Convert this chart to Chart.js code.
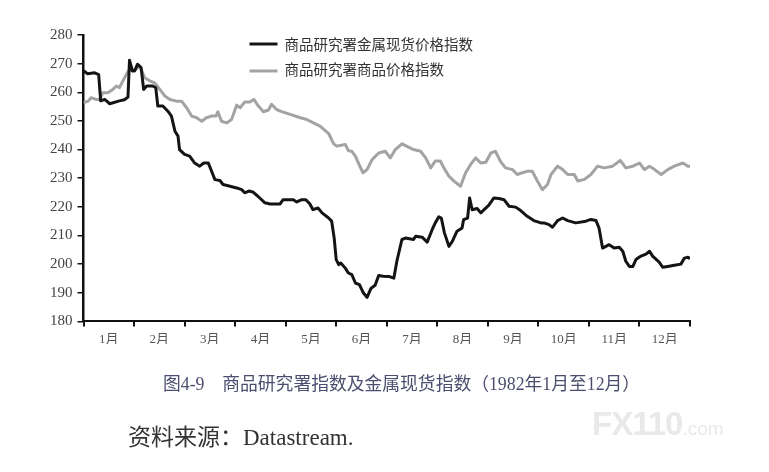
<!DOCTYPE html>
<html lang="zh">
<head>
<meta charset="utf-8">
<title>商品研究署指数及金属现货指数</title>
<script src="https://cdn.jsdelivr.net/npm/chart.js@4.4.1/dist/chart.umd.min.js"></script>
<style>
	body { margin: 0; background: #fff; }
	#wrap { position: relative; width: 769px; height: 472px; overflow: hidden; }
	#chart { position: absolute; left: 0; top: 0; }
	.caption {
		position: absolute; left: 163px; top: 369px;
		font-family: "Liberation Serif", "Noto Sans CJK SC", serif;
		font-size: 17.8px; color: #4b4e6e; white-space: nowrap;
	}
	.source {
		position: absolute; left: 128px; top: 418px;
		font-family: "Liberation Serif", "Noto Sans CJK SC", serif;
		font-size: 23px; color: #333; white-space: nowrap;
	}
	.mark {
		position: absolute; left: 592px; top: 405px;
		font-family: "Liberation Sans", Roboto, sans-serif;
		color: #e9e9e9; white-space: nowrap; font-weight: bold;
	}
	.mark b { font-size: 33px; letter-spacing: -1px; }
	.mark span { font-size: 19px; font-weight: normal; }
</style>
</head>
<body>
<div id="wrap">
	<canvas id="chart" width="769" height="472"></canvas>
	<div class="caption">图4-9　商品研究署指数及金属现货指数（1982年1月至12月）</div>
	<div class="source">资料来源：Datastream.</div>
	<div class="mark"><b>FX110</b><span>.com</span></div>
</div>
<script>
// month labels and y ticks
const monthLabels = ["1月", "2月", "3月", "4月", "5月", "6月", "7月", "8月", "9月", "10月", "11月", "12月"];
const yMin = 180;
const yMax = 280;
const yStep = 10;

// 商品研究署金属现货价格指数 (position in months from 1 Jan)
const metalMonths = [0, 0.08, 0.22, 0.30, 0.34, 0.42, 0.52, 0.71, 0.81, 0.88, 0.91, 0.97, 1.01, 1.07, 1.14, 1.19, 1.25, 1.37, 1.43, 1.47,
	1.57, 1.67, 1.74, 1.81, 1.87, 1.90, 2.00, 2.10, 2.20, 2.30, 2.38, 2.47, 2.60, 2.70, 2.76, 2.90, 3.03, 3.13, 3.19, 3.27,
	3.35, 3.45, 3.59, 3.69, 3.89, 3.95, 4.15, 4.22, 4.32, 4.40, 4.48, 4.54, 4.64, 4.72, 4.85, 4.91, 4.96, 5.00, 5.05, 5.09,
	5.18, 5.24, 5.31, 5.38, 5.46, 5.54, 5.61, 5.69, 5.77, 5.84, 5.93, 6.04, 6.14, 6.20, 6.30, 6.37, 6.53, 6.57, 6.70, 6.80,
	6.90, 6.96, 7.03, 7.08, 7.14, 7.23, 7.30, 7.39, 7.49, 7.52, 7.60, 7.64, 7.69, 7.79, 7.86, 8.02, 8.12, 8.22, 8.32, 8.42,
	8.55, 8.65, 8.78, 8.91, 9.05, 9.11, 9.21, 9.28, 9.38, 9.48, 9.58, 9.74, 9.94, 10.04, 10.14, 10.20, 10.27, 10.40, 10.50, 10.60,
	10.67, 10.73, 10.80, 10.87, 10.93, 11.03, 11.13, 11.20, 11.26, 11.39, 11.46, 11.56, 11.69, 11.82, 11.89, 11.96, 12];
const metalValues = [267.5, 266.5, 266.8, 266.2, 257, 257.5, 256, 257, 257.4, 258.3, 271.2, 267.4, 267.5, 269.8, 268.6, 261, 262.2, 262.2, 261.6, 255.2,
	255.2, 253.4, 251.7, 246.4, 244.7, 240, 238.3, 237.7, 235.3, 234.2, 235.3, 235.3, 229.5, 229.2, 227.8, 227.2, 226.6, 226, 224.9, 225.5,
	225.2, 223.7, 221.4, 221, 221, 222.5, 222.5, 221.7, 222.5, 222.5, 221, 219, 219.6, 217.9, 216.1, 215, 209.1, 201.6, 199.8, 200.4,
	198.6, 196.9, 196.3, 193.4, 192.8, 189.9, 188.4, 191.6, 192.6, 196, 195.8, 195.7, 195.1, 201, 208.6, 209.1, 208.6, 209.7, 209.4, 207.7,
	212.1, 214.4, 216.5, 216.1, 211, 206.2, 208, 211.5, 212.6, 215.5, 216.1, 223.1, 219, 219.4, 217.9, 220.6, 223.1, 222.9, 222.5, 220.2,
	219.9, 218.7, 216.7, 215.2, 214.4, 214.4, 213.8, 212.9, 215.2, 216.1, 215.2, 214.4, 215, 215.6, 215.2, 212.6, 205.6, 206.8, 205.6, 205.9,
	204.5, 201, 199.2, 199.2, 201.6, 202.8, 203.5, 204.5, 202.8, 200.7, 198.9, 199.2, 199.6, 200, 202.1, 202.4, 201.9];

// 商品研究署商品价格指数
const commodityMonths = [0, 0.09, 0.15, 0.25, 0.32, 0.38, 0.48, 0.58, 0.65, 0.71, 0.78, 0.85, 0.91, 1.01, 1.10, 1.14, 1.21, 1.31, 1.41, 1.51,
	1.61, 1.71, 1.84, 1.94, 2.04, 2.14, 2.24, 2.34, 2.43, 2.53, 2.62, 2.66, 2.73, 2.83, 2.93, 3.03, 3.10, 3.19, 3.29, 3.37,
	3.46, 3.56, 3.66, 3.72, 3.82, 3.89, 4.09, 4.29, 4.42, 4.48, 4.68, 4.85, 4.95, 5.01, 5.10, 5.18, 5.24, 5.31, 5.38, 5.44,
	5.53, 5.61, 5.71, 5.84, 5.97, 6.07, 6.17, 6.30, 6.41, 6.53, 6.67, 6.77, 6.87, 6.96, 7.06, 7.13, 7.23, 7.33, 7.46, 7.56,
	7.66, 7.76, 7.86, 7.96, 8.06, 8.15, 8.25, 8.35, 8.49, 8.58, 8.68, 8.78, 8.88, 8.98, 9.08, 9.18, 9.25, 9.38, 9.48, 9.58,
	9.71, 9.78, 9.91, 10.04, 10.17, 10.30, 10.47, 10.62, 10.73, 10.87, 11.00, 11.10, 11.20, 11.30, 11.43, 11.56, 11.69, 11.86, 11.96, 12];
const commodityValues = [256.3, 256.9, 258.1, 257.5, 257.5, 259.8, 259.8, 261, 262.2, 261.6, 264, 266.3, 268, 267.4, 269.2, 268, 265.1, 264, 263.3, 261,
	258.7, 257.5, 256.9, 256.9, 254.6, 251.7, 251.1, 249.9, 251.1, 251.7, 251.7, 253.2, 249.9, 249.3, 250.5, 255.5, 254.6, 256.6, 256.6, 257.5,
	255.2, 253.2, 253.8, 255.8, 254, 253.4, 252.3, 251.1, 250.5, 249.9, 248.2, 245.6, 242, 241.2, 241.5, 241.8, 239.6, 239.4, 237.7, 235.3,
	231.9, 233, 236.5, 238.8, 239.4, 237.1, 240, 242, 241, 240, 239.4, 237.1, 233.6, 236, 236, 233.6, 230.7, 229, 227.2, 231.9,
	234.8, 237.1, 235.3, 235.6, 238.8, 239.4, 235.9, 233.6, 233, 231.3, 231.9, 232.4, 232.4, 229, 226, 227.8, 231.3, 234.2, 233, 231.3,
	231.3, 229, 229.6, 231.3, 234.2, 233.6, 234.2, 236.2, 233.6, 234.2, 235.3, 233, 234.2, 233, 231.3, 233, 234.2, 235.3, 234.2, 234.2];

const toPoints = (xs, ys) => xs.map((x, i) => ({ x: x, y: ys[i] }));

// legend drawn inside the plot, two rows
const insideLegend = {
	id: "insideLegend",
	afterDraw(chart) {
		const ctx = chart.ctx;
		const left = chart.chartArea.left + 166;
		ctx.save();
		chart.data.datasets.forEach((ds, i) => {
			const y = chart.chartArea.top + 9 + i * 25;
			ctx.strokeStyle = ds.borderColor;
			ctx.lineWidth = 3;
			ctx.beginPath();
			ctx.moveTo(left, y + (i ? 2 : 0));
			ctx.lineTo(left + 28, y + (i ? 2 : 0));
			ctx.stroke();
			ctx.fillStyle = "#333";
			ctx.font = "14.5px 'Noto Sans CJK SC'";
			ctx.textBaseline = "middle";
			ctx.fillText(ds.label, left + 35, y);
		});
		ctx.restore();
	}
};

const ctx = document.getElementById("chart").getContext("2d");
const chart = new Chart(ctx, {
	type: "line",
	data: {
		datasets: [
			{
				label: "商品研究署金属现货价格指数",
				data: toPoints(metalMonths, metalValues),
				borderColor: "#141414",
				borderWidth: 3,
				pointRadius: 0,
				tension: 0,
				borderJoinStyle: "round"
			},
			{
				label: "商品研究署商品价格指数",
				data: toPoints(commodityMonths, commodityValues),
				borderColor: "#a3a3a3",
				borderWidth: 3,
				pointRadius: 0,
				tension: 0,
				borderJoinStyle: "round"
			}
		]
	},
	options: {
		responsive: false,
		animation: false,
		events: [],
		layout: { padding: { left: 45, right: 79, top: 35, bottom: 128 } },
		plugins: {
			legend: { display: false },
			tooltip: { enabled: false }
		},
		scales: {
			x: {
				type: "linear",
				min: 0,
				max: 12,
				border: { color: "#111", width: 2 },
				grid: { drawOnChartArea: false, color: "#111", lineWidth: 2, tickLength: 5 },
				ticks: { display: false, stepSize: 1 }
			},
			months: {
				type: "linear",
				position: "bottom",
				min: 0,
				max: 12,
				border: { display: false },
				grid: { display: false },
				afterBuildTicks: (scale) => {
					scale.ticks = monthLabels.map((m, i) => ({ value: i + 0.5 }));
				},
				ticks: {
					autoSkip: false,
					maxRotation: 0,
					padding: -3,
					color: "#555",
					font: { family: "'Liberation Serif', 'Noto Sans CJK SC'", size: 13 },
					callback: (v) => monthLabels[Math.floor(v)]
				}
			},
			y: {
				min: yMin,
				max: yMax,
				border: { color: "#111", width: 2.5 },
				grid: { drawOnChartArea: false, color: "#111", lineWidth: 1.5, tickLength: 6 },
				ticks: {
					stepSize: yStep,
					padding: 5,
					color: "#444",
					font: { family: "'Liberation Serif'", size: 15 }
				}
			}
		}
	},
	plugins: [insideLegend]
});
</script>
</body>
</html>
